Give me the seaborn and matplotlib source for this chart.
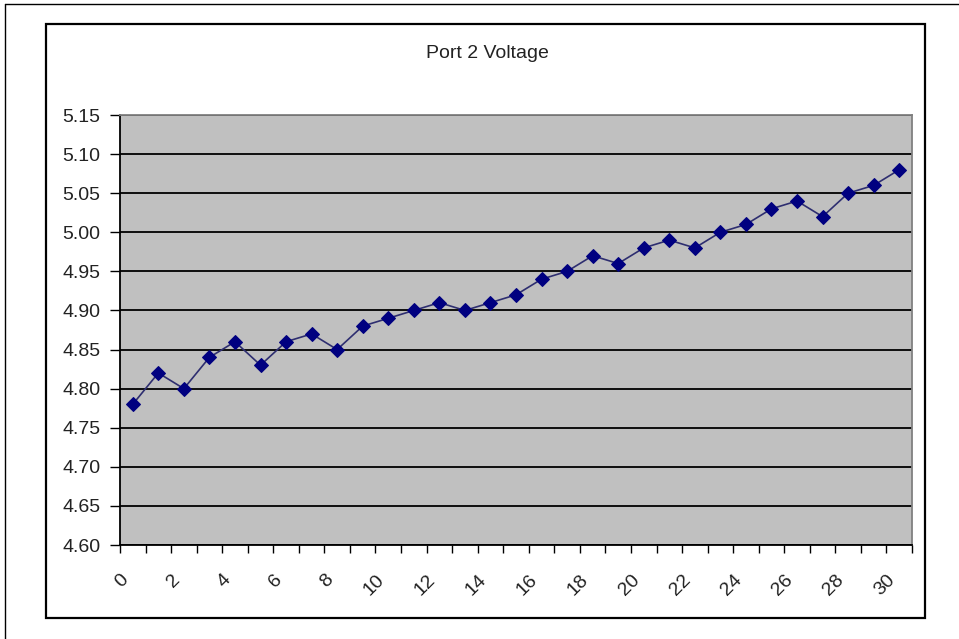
import matplotlib
matplotlib.use("Agg")
import matplotlib.pyplot as plt
import seaborn as sns
import pandas as pd
import numpy as np
from matplotlib.lines import Line2D
from matplotlib.patches import Rectangle

# Readings per sample
samples = list(range(31))
voltage = [4.78, 4.82, 4.80, 4.84, 4.86, 4.83, 4.86, 4.87, 4.85, 4.88,
           4.89, 4.90, 4.91, 4.90, 4.91, 4.92, 4.94, 4.95, 4.97, 4.96,
           4.98, 4.99, 4.98, 5.00, 5.01, 5.03, 5.04, 5.02, 5.05, 5.06, 5.08]
x_labels = [str(k) for k in range(0, 31, 2)]
y_ticks = [4.60, 4.65, 4.70, 4.75, 4.80, 4.85, 4.90, 4.95, 5.00, 5.05, 5.10, 5.15]
title = "Port 2 Voltage"

sns.set_theme(style="white")
plt.rcParams["font.family"] = ["Liberation Sans", "DejaVu Sans"]

W, H = 959, 639
fig = plt.figure(figsize=(W / 100, H / 100), dpi=100)
fig.patch.set_facecolor("white")

# plot area in pixel bounds
left, right, top, bottom = 120, 912, 115, 545
ax = fig.add_axes([left / W, 1 - bottom / H, (right - left) / W, (bottom - top) / H])
ax.set_facecolor("#C0C0C0")

df = pd.DataFrame({"Sample": samples, "Voltage": voltage})
sns.lineplot(data=df, x="Sample", y="Voltage", ax=ax, color="#2E2E70",
             lw=1.2, marker="D", markersize=7.5,
             markerfacecolor="#000080", markeredgecolor="#000080")

ax.set_xlim(-0.5, len(samples) - 0.5)
ax.set_ylim(y_ticks[0], y_ticks[-1])
ax.set_xlabel("")
ax.set_ylabel("")

# horizontal gridlines
ax.set_yticks(y_ticks, [f"{v:.2f}" for v in y_ticks])
ax.yaxis.grid(True, color="black", lw=1.3)
ax.xaxis.grid(False)

# tick marks on category boundaries, labels on every other one
boundaries = [k - 0.5 for k in range(len(samples) + 1)]
lbls = []
for k in range(len(samples) + 1):
    lbls.append(str(k) if str(k) in x_labels else "")
ax.set_xticks(boundaries, lbls)
for t in ax.get_xticklabels():
    t.set_rotation(45)
    t.set_ha("right")
    t.set_va("top")
    t.set_rotation_mode("anchor")

ax.tick_params(axis="x", direction="out", length=6, width=1, pad=13,
               labelsize=14, colors="black", bottom=True)
ax.tick_params(axis="y", direction="out", length=7, width=1, pad=7,
               labelsize=14, colors="black", left=True)
for lab in ax.get_xticklabels() + ax.get_yticklabels():
    lab.set_color("#222222")

for s in ("left", "bottom"):
    ax.spines[s].set_color("black")
    ax.spines[s].set_linewidth(1.3)
for s in ("top", "right"):
    ax.spines[s].set_color("#808080")
    ax.spines[s].set_linewidth(1.3)

# chart frame and outer page lines
fig.add_artist(Rectangle((46 / W, 1 - 618 / H), (925 - 46) / W, (618 - 24) / H,
                         transform=fig.transFigure, fill=False,
                         ec="black", lw=1.6))
fig.add_artist(Line2D([5 / W, 1], [1 - 4 / H, 1 - 4 / H],
                      transform=fig.transFigure, color="black", lw=1))
fig.add_artist(Line2D([5 / W, 5 / W], [0, 1 - 4 / H],
                      transform=fig.transFigure, color="black", lw=1))

fig.text(487 / W, 1 - 54 / H, title, ha="center", va="center",
         fontsize=14, color="#222222")

fig.savefig("out.png", dpi=100)
